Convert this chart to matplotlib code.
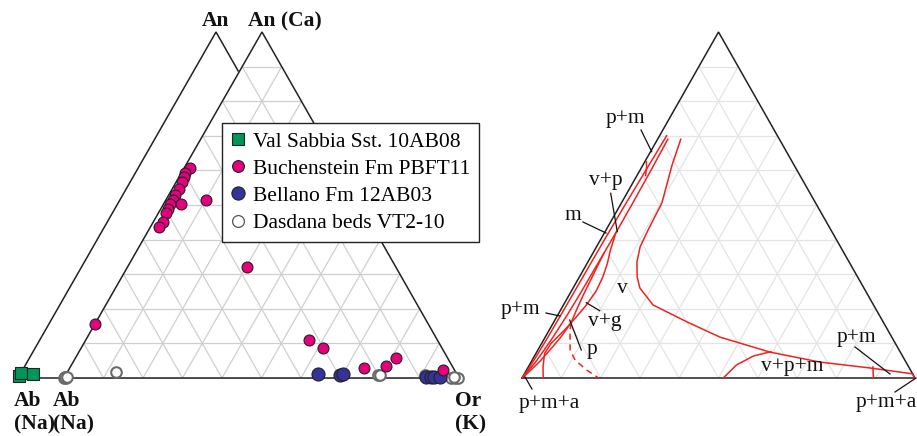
import numpy as np
import matplotlib.pyplot as plt

plt.rcParams['font.family'] = ['Liberation Serif', 'DejaVu Serif']

# feldspar compositions as mole fractions (An, Or); Ab is the remainder
sabbia_an = [0.005, 0.014, 0.012]
sabbia_or = [0.0, 0.001, 0.032]

buch_an = [0.607, 0.592, 0.580, 0.566, 0.546, 0.529, 0.514, 0.503, 0.488, 0.477,
           0.451, 0.436, 0.503, 0.514, 0.321, 0.156, 0.110, 0.087, 0.029, 0.035,
           0.058, 0.023]
buch_or = [0.015, 0.009, 0.012, 0.015, 0.017, 0.016, 0.018, 0.016, 0.018, 0.019,
           0.025, 0.022, 0.044, 0.102, 0.303, 0.0, 0.565, 0.612, 0.745, 0.798,
           0.812, 0.948]

bell_an = [0.012, 0.009, 0.012, 0.003, 0.003, 0.004, 0.003]
bell_or = [0.637, 0.694, 0.700, 0.915, 0.927, 0.935, 0.950]

dasd_an = [0.0, 0.004, 0.0, 0.003, 0.002, 0.017, 0.009, 0.009, 0.009, 0.0, 0.0, 0.0, 0.003]
dasd_or = [0.0, 0.0, 0.004, 0.002, 0.006, 0.123, 0.791, 0.796, 0.910, 0.981, 0.990, 0.998, 0.986]

# phase boundaries of the feldspar solvus diagram (An, Or)
solvus_an = [0.69, 0.616, 0.506, 0.428, 0.379, 0.335, 0.292, 0.260, 0.211, 0.162,
             0.118, 0.075, 0.046, 0.029, 0.012]
solvus_or = [0.059, 0.074, 0.103, 0.107, 0.111, 0.125, 0.147, 0.170, 0.228, 0.339,
             0.445, 0.593, 0.735, 0.871, 0.988]
edge1_an = [0.70, 0.60, 0.50, 0.40, 0.30, 0.20, 0.12, 0.06, 0.02, 0.0]
edge1_or = [0.018, 0.015, 0.012, 0.010, 0.009, 0.008, 0.007, 0.005, 0.003, 0.0]
edge2_an = [0.69, 0.60, 0.50, 0.42, 0.36, 0.30, 0.24, 0.18, 0.12, 0.09, 0.05, 0.02, 0.005]
edge2_or = [0.026, 0.028, 0.029, 0.029, 0.028, 0.027, 0.026, 0.024, 0.020, 0.017,
            0.012, 0.006, 0.002]
lens_r_an = [0.42, 0.37, 0.33, 0.29, 0.25, 0.21, 0.18, 0.159]
lens_r_or = [0.029, 0.040, 0.052, 0.060, 0.063, 0.058, 0.051, 0.045]
lens_l_an = [0.36, 0.30, 0.24, 0.20, 0.159]
lens_l_or = [0.028, 0.032, 0.036, 0.040, 0.045]
junc_an = [0.159, 0.12, 0.09, 0.05, 0.02, 0.005]
junc_or = [0.045, 0.040, 0.033, 0.022, 0.010, 0.003]
base_an = [0.159, 0.139, 0.100, 0.071, 0.033, 0.0]
base_or = [0.045, 0.039, 0.024, 0.022, 0.037, 0.054]
dash_an = [0.159, 0.134, 0.081, 0.052, 0.023, 0.0]
dash_or = [0.045, 0.055, 0.082, 0.109, 0.153, 0.195]
hook_an = [0.625, 0.61, 0.595, 0.585]
hook_or = [0.004, 0.012, 0.018, 0.022]
arc_an = [0.0, 0.0376, 0.0636, 0.076]
arc_or = [0.512, 0.527, 0.557, 0.595]
tick_an = [0.032, 0.0]
tick_or = [0.877, 0.894]
tip_an = [0.012, 0.0]
tip_or = [0.988, 0.998]

# triangle corners in figure pixels: Ab, Or, An
MAIN = ((64, 378), (459, 378), (262, 32))
BACK = ((18, 378), (413, 378), (216, 32))
RIGHT = ((522, 378), (915, 378), (718.5, 32))


def tern(tri, an, orr):
    an = np.asarray(an, float)
    orr = np.asarray(orr, float)
    (x0, y0), (x1, y1), (x2, y2) = tri
    return (x0 + orr * (x1 - x0) + an * (x2 - x0),
            y0 + orr * (y1 - y0) + an * (y2 - y0))


def outline(ax, tri, fill=None, z=2):
    xs = [p[0] for p in tri] + [tri[0][0]]
    ys = [p[1] for p in tri] + [tri[0][1]]
    if fill:
        ax.fill(xs, ys, color=fill, zorder=z)
    ax.plot(xs, ys, color='#222222', lw=1.1, zorder=z + 0.5, solid_joinstyle='miter')


def grid(ax, tri, color, z):
    for k in range(1, 10):
        f = k / 10
        for a, o in (([f, f], [0, 1 - f]),
                     ([0, 1 - f], [f, f]),
                     ([0, 1 - f], [1 - f, 0])):
            x, y = tern(tri, a, o)
            ax.plot(x, y, color=color, lw=0.9, zorder=z)


fig = plt.figure(figsize=(9.17, 4.36), dpi=100)
ax = fig.add_axes([0, 0, 1, 1])
ax.set_xlim(0, 917)
ax.set_ylim(436, 0)
ax.axis('off')

# left: offset albite triangle sits behind the main Ab-An-Or triangle
outline(ax, BACK, z=1)
outline(ax, MAIN, fill='white', z=2)
grid(ax, MAIN, '#cfcfcf', 2.2)

x, y = tern(BACK, sabbia_an, sabbia_or)
ax.scatter(x, y, marker='s', s=64, c='#00965a', edgecolors='#222222', lw=0.8, zorder=6)
x, y = tern(MAIN, dasd_an, dasd_or)
ax.scatter(x, y, marker='o', s=58, c='white', edgecolors='#6a6a6a', lw=1.5, zorder=5)
x, y = tern(MAIN, bell_an, bell_or)
ax.scatter(x, y, marker='o', s=88, c='#333399', edgecolors='#222222', lw=0.8, zorder=6)
x, y = tern(MAIN, buch_an, buch_or)
ax.scatter(x, y, marker='o', s=62, c='#e6007e', edgecolors='#222222', lw=0.8, zorder=7)

handles = [
    plt.Line2D([], [], ls='', marker='s', ms=8, mfc='#00965a', mec='#222222', mew=0.8),
    plt.Line2D([], [], ls='', marker='o', ms=8.5, mfc='#e6007e', mec='#222222', mew=0.8),
    plt.Line2D([], [], ls='', marker='o', ms=9.5, mfc='#333399', mec='#222222', mew=0.8),
    plt.Line2D([], [], ls='', marker='o', ms=8.5, mfc='white', mec='#555555', mew=0.9),
]
labels = ['Val Sabbia Sst. 10AB08', 'Buchenstein Fm PBFT11',
          'Bellano Fm 12AB03', 'Dasdana beds VT2-10']
leg = ax.legend(handles, labels, loc='upper left', bbox_to_anchor=(222 / 917, 1 - 123 / 436),
                borderaxespad=0, fontsize=15.5, frameon=True, fancybox=False,
                edgecolor='#222222', framealpha=1, handlelength=0.7, handletextpad=0.35,
                labelspacing=0.33, borderpad=0.4)
leg.get_frame().set_linewidth(1.0)
leg.set_zorder(10)

bold = dict(fontsize=15.5, fontweight='bold', color='#111111')
ax.text(216, 21, 'An', ha='center', va='center', **bold)
ax.text(285, 21, 'An (Ca)', ha='center', va='center', **bold)
ax.text(14, 401, 'Ab', ha='left', va='center', **bold)
ax.text(14, 424, '(Na)', ha='left', va='center', **bold)
ax.text(53, 401, 'Ab', ha='left', va='center', **bold)
ax.text(53, 424, '(Na)', ha='left', va='center', **bold)
ax.text(455, 401, 'Or', ha='left', va='center', **bold)
ax.text(455, 424, '(K)', ha='left', va='center', **bold)

# right: phase fields
outline(ax, RIGHT, fill='white', z=2)
grid(ax, RIGHT, '#e4e4e4', 2.2)

red = dict(color='#ee2222', lw=1.1, zorder=5)
for a, o in ((solvus_an, solvus_or), (edge1_an, edge1_or), (edge2_an, edge2_or),
             (lens_r_an, lens_r_or), (lens_l_an, lens_l_or), (junc_an, junc_or),
             (base_an, base_or), (hook_an, hook_or), (arc_an, arc_or),
             (tick_an, tick_or), (tip_an, tip_or)):
    x, y = tern(RIGHT, a, o)
    ax.plot(x, y, **red)
x, y = tern(RIGHT, dash_an, dash_or)
ax.plot(x, y, ls=(0, (4, 3)), **red)

notes = [
    ('p+m', (625, 118), (641, 130), (651.7, 151.7)),
    ('v+p', (606, 180), (610.7, 193.3), (617.3, 231.7)),
    ('m', (573, 215), (583, 222), (606, 233)),
    ('v', (622, 288), None, None),
    ('p+m', (520, 309), (546, 313), (560, 316)),
    ('v+g', (605, 321), (586.3, 302.7), (599.7, 310.7)),
    ('p', (592, 349), (569.7, 320), (581.3, 350)),
    ('p+m+a', (549, 403), (525, 377), (532, 389)),
    ('v+p+m', (792, 366), None, None),
    ('p+m', (856, 337), (855, 347), (890, 374)),
    ('p+m+a', (886, 402), (895, 392), (916, 378)),
]
for txt, (tx, ty), p0, p1 in notes:
    ax.text(tx, ty, txt, ha='center', va='center', fontsize=15.5, color='#111111', zorder=8)
    if p0 is not None:
        ax.plot([p0[0], p1[0]], [p0[1], p1[1]], color='#111111', lw=0.9, zorder=6)

fig.savefig('out.png', dpi=100)
